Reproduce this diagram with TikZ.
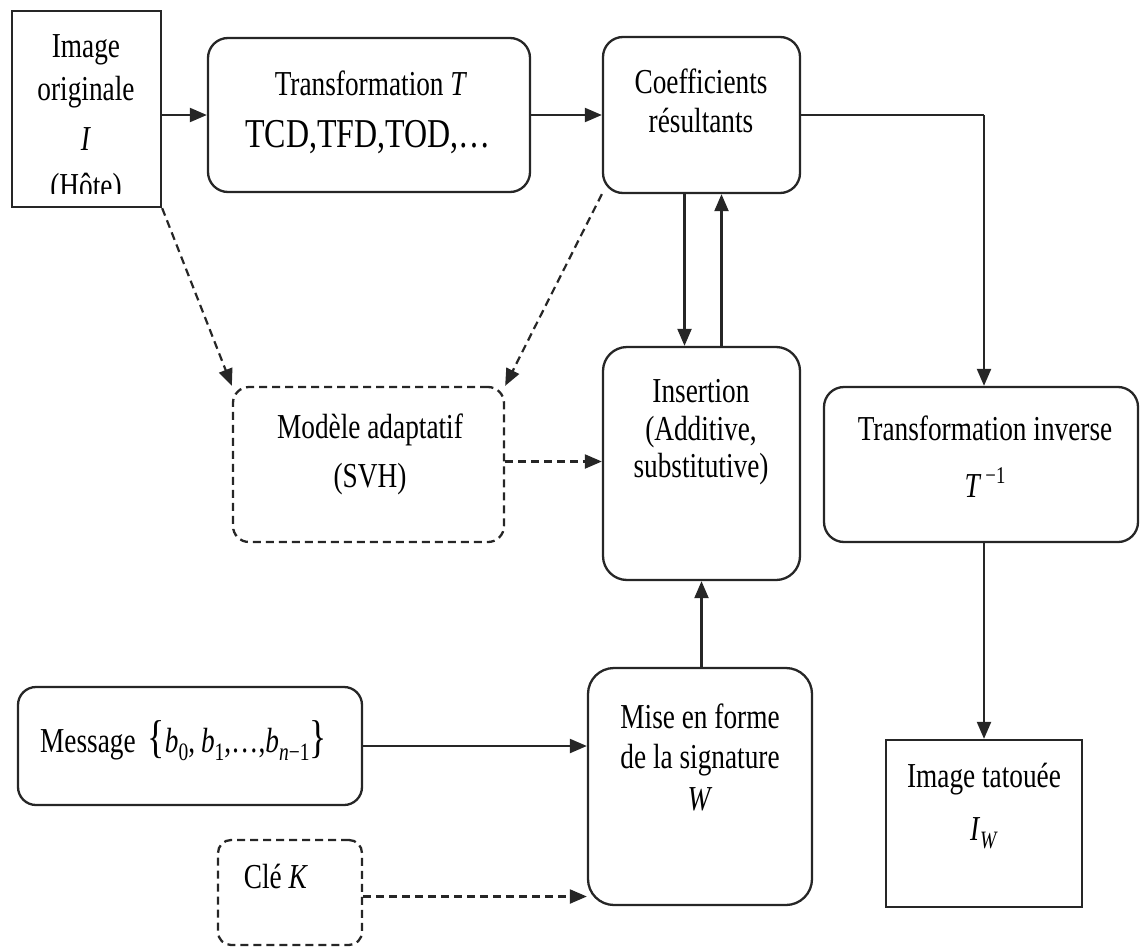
\documentclass[tikz,border=0pt]{standalone}
\usepackage{fontspec}
\setmainfont{Liberation Serif}[FakeStretch=0.78]
\usetikzlibrary{arrows.meta,calc}

% small raised / lowered indices set in text italic
\newcommand\supx[1]{\raisebox{14pt}{\fontsize{24}{24}\selectfont #1}}
\newcommand\subx[1]{\raisebox{-8pt}{\fontsize{25}{25}\selectfont #1}}

\tikzset{
  frame/.style={draw=black!85, line width=2.3pt, rectangle, inner sep=0pt},
  rbox/.style={frame, rounded corners=20pt},
  dbox/.style={frame, rounded corners=16pt, dash pattern=on 8pt off 5pt},
  txt/.style={anchor=base, inner sep=0pt, font=\fontsize{35}{40}\selectfont},
  big/.style={txt, font=\fontsize{41}{46}\selectfont},
  link/.style={draw=black!85, line width=2.2pt, -{Triangle[length=17pt,width=14pt]}},
  dlink/.style={link, dash pattern=on 8pt off 5pt},
}

\begin{document}
\begin{tikzpicture}[x=1pt, y=-1pt]
\useasboundingbox (0,0) rectangle (1140,950);

% boxes
\node[frame, minimum width=149, minimum height=196] (orig) at (86.5,109) {};
\node[rbox,  minimum width=322, minimum height=154] (trans) at (369,115) {};
\node[rbox,  minimum width=197, minimum height=156] (coef) at (701.5,115) {};
\node[rbox,  minimum width=314, minimum height=155] (tinv) at (981,464.5) {};
\node[frame, minimum width=196, minimum height=167] (tat) at (984,823.5) {};
\node[rbox,  minimum width=197, minimum height=233, rounded corners=24pt] (ins) at (701.5,463.5) {};
\node[dbox,  minimum width=271, minimum height=155] (mod) at (368.5,464.5) {};
\node[rbox,  minimum width=224, minimum height=237, rounded corners=26pt] (mise) at (700,786.5) {};
\node[rbox,  minimum width=344, minimum height=118, rounded corners=18pt] (msg) at (190,746) {};
\node[dbox,  minimum width=144, minimum height=105, rounded corners=13pt] (cle) at (290,892.5) {};

% texts
\begin{scope}
  \clip (orig.north west) rectangle ($(orig.south east)+(0,-15)$);
  \node[txt] (origA) at (86,57) {Image};
  \node[txt] (origB) at (86,100) {originale};
  \node[txt] (origC) at (86,150) {\textit{I}};
  \node[txt] (origD) at (86,197) {(Hôte)};
\end{scope}

\node[txt] (transA) at (371,95) {Transformation \textit{T}};
\node[big] (transB) at (368,147) {TCD,TFD,TOD,…};

\node[txt] (coefA) at (701,93) {Coefficients};
\node[txt] (coefB) at (701,132) {résultants};

\node[txt] (insA) at (701,402) {Insertion};
\node[txt] (insB) at (701,440) {(Additive,};
\node[txt] (insC) at (701,477) {substitutive)};

\node[txt] (modA) at (370,438) {Modèle adaptatif};
\node[txt] (modB) at (370,487) {(SVH)};

\node[txt] (tinvA) at (985,440) {Transformation inverse};
\node[txt] (tinvB) at (985,497) {\textit{T}\hspace{4pt}\supx{−1}};

\node[txt] (tatA) at (984,787) {Image tatouée};
\node[txt] (tatB) at (984,840) {\textit{I}\subx{\textit{W}}};

\node[txt] (miseA) at (700,728) {Mise en forme};
\node[txt] (miseB) at (700,768) {de la signature};
\node[txt] (miseC) at (700,810) {\textit{W}};

\node[txt, anchor=base west] (msgA) at (40,752)
  {Message\hspace{12pt}{\fontsize{46}{46}\selectfont\{}\textit{b}\subx{0},\,\textit{b}\subx{1},…,\textit{b}\subx{\textit{n}−1}{\fontsize{46}{46}\selectfont\}}};

\node[txt] (cleA) at (276,888) {Clé \textit{K}};

% connectors
\draw[link, -] (coef.east) -| (tat.north |- coef.east) coordinate (bend);
\draw[link] (bend) -- (bend |- tinv.north);
\draw[link] (orig.east |- trans.west) -- (trans.west);
\draw[link] (trans.east) -- (coef.west);
\draw[link] (bend |- tinv.south) -- (tat.north);

\draw[link] ([xshift=-17pt]coef.south) -- ([xshift=-17pt]coef.south |- ins.north);
\draw[link] ([xshift=20pt]ins.north) -- ([xshift=20pt]ins.north |- coef.south);

\draw[dlink] (orig.south east) -- (mod.north west);
\draw[dlink] (coef.south west) -- (mod.north east);
\draw[dlink] ([yshift=3pt]mod.east) -- ([yshift=3pt]mod.east -| ins.west);

\draw[link] (ins.south |- mise.north) -- (ins.south);
\draw[link] (msg.east) -- (msg.east -| mise.west);
\draw[dlink] ([yshift=-4pt]cle.east) -- ([yshift=-4pt]cle.east -| mise.west);
\end{tikzpicture}
\end{document}
